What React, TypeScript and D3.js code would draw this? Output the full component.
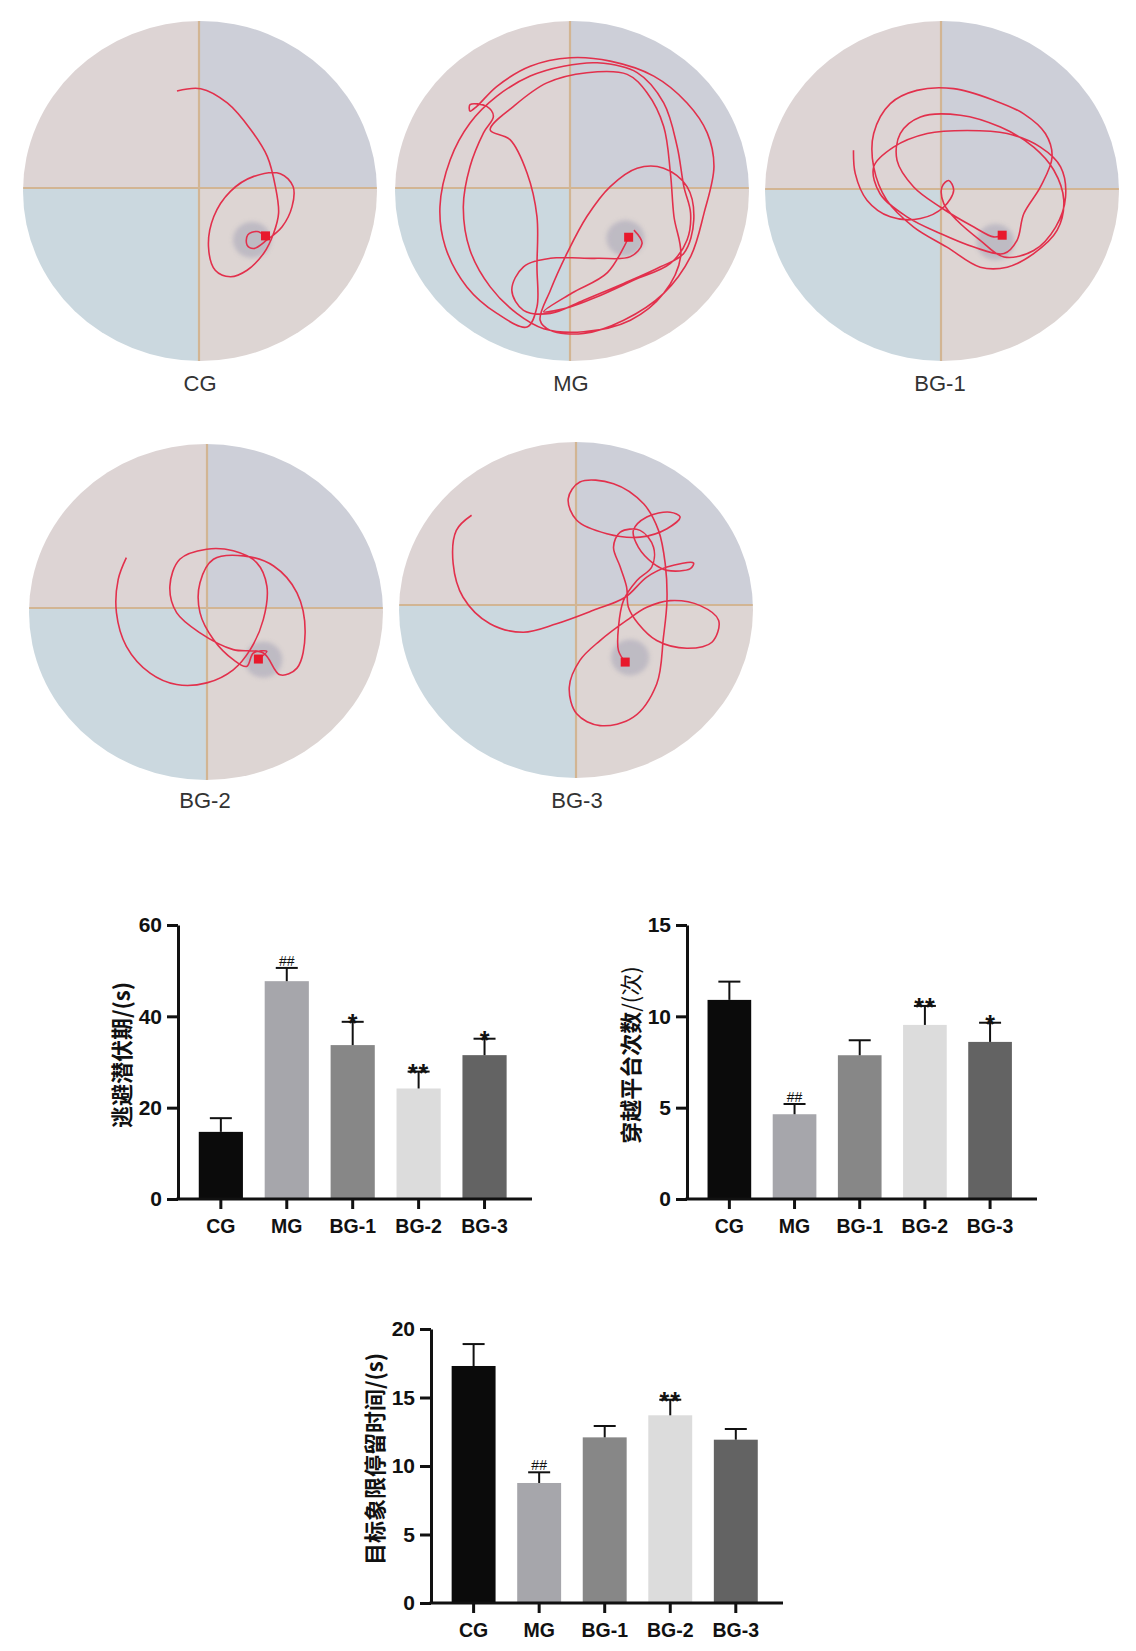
import React, { useEffect, useRef } from 'react';
import * as d3 from 'd3';

// Groups shared by the swim-path panels and the bar charts
const groups = ['CG', 'MG', 'BG-1', 'BG-2', 'BG-3'];

// Escape latency (s)
const latencyMean = [14.7, 47.7, 33.7, 24.2, 31.5];
const latencySd = [3.0, 2.9, 5.1, 3.7, 3.6];
const latencyMarks = ['', '##', '*', '**', '*'];

// Platform crossings (times)
const crossingMean = [10.9, 4.64, 7.87, 9.53, 8.6];
const crossingSd = [1.0, 0.56, 0.82, 1.04, 1.05];
const crossingMarks = ['', '##', '', '**', '*'];

// Time in target quadrant (s)
const quadrantMean = [17.3, 8.76, 12.09, 13.7, 11.92];
const quadrantSd = [1.6, 0.78, 0.83, 1.14, 0.78];
const quadrantMarks = ['', '##', '', '**', ''];

const latencyTicks = [0, 20, 40, 60];
const crossingTicks = [0, 5, 10, 15];
const quadrantTicks = [0, 5, 10, 15, 20];

// Swim tracks, in pool units (0-100 across the pool box, y down)
const trackCG: [number, number][] = [
  [43.5, 20.6], [50.2, 19.9], [57.7, 24.1], [64.3, 31.9], [69.0, 39.8], [71.3, 48.7], [72.2, 56.5],
  [70.8, 62.4], [68.0, 68.3], [63.3, 73.3], [58.6, 75.2], [54.3, 73.3], [52.4, 66.4], [53.9, 57.5],
  [58.6, 50.1], [65.2, 45.7], [72.7, 44.9], [76.3, 48.7], [76.0, 54.6], [73.2, 60.5], [68.9, 64.4],
  [65.2, 66.9], [63.3, 65.9], [63.5, 62.9], [66.1, 61.9], [68.5, 63.2],
];

const trackMG: [number, number][] = [
  [67.5, 61.5], [69.8, 65.4], [66.5, 69.3], [57.1, 69.8], [43.9, 69.8], [36.3, 72.3], [33.0, 79.2],
  [36.3, 85.1], [43.9, 86.0], [53.3, 82.1], [64.6, 77.2], [75.0, 72.3], [81.6, 68.3], [84.4, 58.5],
  [82.5, 48.7], [75.9, 43.3], [68.4, 43.3], [60.8, 48.7], [54.2, 57.5], [48.6, 68.3], [43.9, 79.2],
  [41.0, 88.0], [43.9, 91.0], [53.3, 91.9], [64.6, 88.0], [75.9, 80.1], [83.5, 69.3], [87.3, 56.5],
  [90.1, 42.8], [88.2, 32.9], [82.5, 24.1], [73.1, 16.2], [60.8, 11.8], [49.5, 10.8], [38.2, 13.3],
  [28.8, 19.2], [23.1, 25.1], [21.2, 26.5], [21.2, 24.6], [25.9, 25.1], [27.8, 28.0], [25.0, 32.9],
  [21.2, 42.8], [19.3, 54.6], [21.2, 67.4], [26.9, 78.2], [34.4, 86.0], [42.0, 90.5], [53.3, 91.4],
  [66.5, 88.0], [75.9, 80.1], [80.7, 69.3], [78.8, 57.5], [77.8, 44.7], [75.9, 31.0], [71.2, 21.1],
  [65.6, 15.7], [54.2, 15.2], [42.9, 18.2], [33.5, 25.1], [26.9, 32.0], [32.5, 34.9], [37.3, 44.7],
  [40.1, 57.5], [40.1, 72.3], [40.1, 84.1], [37.3, 90.0], [28.8, 86.0], [20.3, 78.2], [14.2, 66.4],
  [12.7, 54.6], [15.6, 40.8], [21.2, 30.0], [28.8, 22.1], [38.2, 16.2], [47.6, 13.3], [57.1, 12.3],
  [68.4, 15.2], [75.9, 24.1], [79.7, 36.9], [81.6, 48.7], [83.5, 56.5], [82.5, 64.4], [77.8, 71.3],
  [67.5, 76.2], [57.1, 81.1], [49.5, 84.1], [42.0, 85.5], [50.0, 80.0], [60.0, 74.0], [66.0, 63.6],
];

const trackBG1: [number, number][] = [
  [25.0, 38.0], [25.5, 44.9], [28.8, 52.7], [35.4, 57.6], [43.9, 58.1], [50.5, 54.7], [53.3, 49.8],
  [51.9, 46.9], [50.0, 48.8], [50.5, 53.7], [54.2, 58.6], [60.8, 64.5], [67.5, 69.4], [75.9, 67.5],
  [82.1, 60.6], [84.9, 51.8], [83.5, 42.9], [77.8, 37.1], [68.4, 33.1], [57.1, 32.2], [45.8, 33.1],
  [36.3, 37.1], [30.7, 42.9], [32.5, 50.8], [40.1, 57.6], [49.5, 62.5], [59.0, 66.5], [67.5, 68.4],
  [71.2, 64.5], [73.1, 56.7], [77.8, 48.8], [81.1, 40.0], [79.2, 33.1], [73.1, 27.3], [64.6, 23.3],
  [53.3, 19.9], [42.9, 20.4], [35.4, 24.3], [30.7, 33.1], [30.7, 42.9], [34.4, 52.7], [42.0, 60.6],
  [51.4, 66.5], [60.8, 72.4], [68.4, 72.4], [75.9, 68.4], [82.5, 61.6], [84.4, 52.7], [81.6, 43.9],
  [75.9, 37.1], [66.5, 31.2], [55.2, 27.7], [43.9, 28.2], [38.2, 33.1], [37.3, 41.0], [42.0, 48.8],
  [49.5, 54.7], [59.0, 60.6], [64.6, 63.5], [67.0, 63.0],
];

const trackBG2: [number, number][] = [
  [27.5, 33.8], [25.2, 40.3], [24.7, 50.2], [27.5, 60.2], [34.2, 68.2], [41.7, 71.6], [50.2, 71.1],
  [57.7, 67.2], [62.5, 61.2], [66.2, 52.2], [67.2, 42.3], [64.3, 35.3], [57.7, 31.8], [50.2, 31.3],
  [42.6, 34.3], [39.8, 42.3], [41.7, 50.2], [48.3, 56.2], [57.7, 61.2], [66.2, 62.2], [70.9, 68.7],
  [75.7, 66.7], [78.0, 56.2], [75.7, 44.3], [69.1, 36.3], [60.6, 33.3], [52.1, 34.3], [48.3, 41.3],
  [48.3, 50.2], [52.1, 58.2], [57.7, 64.2], [61.5, 66.2], [63.4, 62.2], [67.2, 61.7], [64.8, 64.0],
];

const trackBG3: [number, number][] = [
  [20.5, 21.8], [16.2, 26.3], [15.3, 36.2], [18.1, 46.2], [25.7, 54.1], [35.1, 56.6], [44.5, 54.1],
  [54.9, 50.1], [63.9, 46.2], [70.0, 40.2], [75.7, 37.2], [83.2, 36.0], [82.3, 37.7], [75.7, 38.2],
  [71.9, 36.2], [67.6, 31.3], [66.2, 26.3], [70.0, 22.3], [76.6, 20.9], [79.4, 22.3], [75.7, 25.8],
  [68.1, 28.3], [58.7, 27.3], [50.2, 23.3], [47.8, 16.9], [51.1, 11.9], [60.6, 12.4], [69.1, 18.4],
  [73.3, 26.3], [75.2, 36.2], [75.7, 47.2], [74.7, 58.1], [72.8, 72.0], [66.2, 81.9], [56.8, 84.4],
  [50.2, 80.9], [48.1, 73.0], [51.1, 65.0], [56.8, 59.1], [64.3, 53.1], [70.0, 49.2], [76.6, 47.2],
  [85.1, 48.7], [90.3, 53.1], [88.4, 59.6], [81.3, 61.4], [72.8, 59.1], [67.6, 54.1], [64.8, 49.2],
  [64.3, 43.2], [62.5, 37.2], [60.6, 31.3], [62.5, 26.8], [68.1, 26.3], [71.9, 31.3], [71.4, 37.2],
  [67.2, 41.2], [63.4, 47.2], [62.0, 55.1], [62.0, 62.1], [63.9, 65.5],
];

const tracks = [trackCG, trackMG, trackBG1, trackBG2, trackBG3];

// Hidden platform centres, in pool units
const platforms: [number, number][] = [[64.7, 64.4], [65.1, 63.9], [65.1, 65.0], [66.2, 64.2], [65.3, 64.1]];

const barColors = ['#0b0b0b', '#a6a6ab', '#878787', '#dcdcdc', '#636363'];

const App = () => {
  const svgRef = useRef<SVGSVGElement>(null);

  useEffect(() => {
    const svg = d3.select(svgRef.current);
    svg.selectAll('*').remove();
    const defs = svg.append('defs');
    defs.append('filter').attr('id', 'soft')
      .attr('x', '-50%').attr('y', '-50%').attr('width', '200%').attr('height', '200%')
      .append('feGaussianBlur').attr('stdDeviation', 2);

    // Pool layout on the page
    const pools = [
      { cx: 200, cy: 191, rx: 177, ry: 170, crossX: 199, crossY: 188, labelX: 200, labelY: 391 },
      { cx: 572, cy: 191, rx: 177, ry: 170, crossX: 570, crossY: 188, labelX: 571, labelY: 391 },
      { cx: 942, cy: 191, rx: 177, ry: 170, crossX: 941, crossY: 189, labelX: 940, labelY: 391 },
      { cx: 206, cy: 612, rx: 177, ry: 168, crossX: 207, crossY: 608, labelX: 205, labelY: 808 },
      { cx: 576, cy: 610, rx: 177, ry: 168, crossX: 576, crossY: 605, labelX: 577, labelY: 808 },
    ];
    const quadColors = ['#ddd4d4', '#cdcfd8', '#cbd8df', '#ddd5d3'];

    pools.forEach((p, i) => {
      const x = d3.scaleLinear().domain([0, 100]).range([p.cx - p.rx, p.cx + p.rx]);
      const y = d3.scaleLinear().domain([0, 100]).range([p.cy - p.ry, p.cy + p.ry]);
      const clipId = `pool-clip-${i}`;
      defs.append('clipPath').attr('id', clipId)
        .append('ellipse').attr('cx', p.cx).attr('cy', p.cy).attr('rx', p.rx).attr('ry', p.ry);

      const g = svg.append('g');
      const inner = g.append('g').attr('clip-path', `url(#${clipId})`);
      const x0 = p.cx - p.rx, x1 = p.cx + p.rx, y0 = p.cy - p.ry, y1 = p.cy + p.ry;
      const quads = [
        [x0, y0, p.crossX, p.crossY], [p.crossX, y0, x1, p.crossY],
        [x0, p.crossY, p.crossX, y1], [p.crossX, p.crossY, x1, y1],
      ];
      inner.selectAll('rect').data(quads).enter().append('rect')
        .attr('x', d => d[0]).attr('y', d => d[1])
        .attr('width', d => d[2] - d[0]).attr('height', d => d[3] - d[1])
        .attr('fill', (d, k) => quadColors[k]);
      inner.append('line').attr('x1', p.crossX).attr('x2', p.crossX).attr('y1', y0).attr('y2', y1)
        .attr('stroke', '#d2b593').attr('stroke-width', 2.2);
      inner.append('line').attr('x1', x0).attr('x2', x1).attr('y1', p.crossY).attr('y2', p.crossY)
        .attr('stroke', '#d2b593').attr('stroke-width', 2.2);

      // Platform zone
      inner.append('ellipse')
        .attr('cx', x(platforms[i][0])).attr('cy', y(platforms[i][1]))
        .attr('rx', 19).attr('ry', 18)
        .attr('fill', '#b7b4c0').attr('opacity', 0.8).attr('filter', 'url(#soft)');

      // Swim path
      const line = d3.line<[number, number]>()
        .x(d => x(d[0])).y(d => y(d[1]))
        .curve(d3.curveCatmullRom.alpha(0.5));
      inner.append('path').attr('d', line(tracks[i]))
        .attr('fill', 'none').attr('stroke', '#e2304c').attr('stroke-width', 1.6);

      // End point marker
      const end = tracks[i][tracks[i].length - 1];
      inner.append('rect')
        .attr('x', x(end[0]) - 4.5).attr('y', y(end[1]) - 4.5)
        .attr('width', 9).attr('height', 9).attr('fill', '#e8192c');

      g.append('text').attr('x', p.labelX).attr('y', p.labelY)
        .attr('text-anchor', 'middle')
        .attr('font-family', "'Liberation Sans', Arial, sans-serif")
        .attr('font-size', 22).attr('fill', '#333')
        .text(groups[i]);
    });

    // Bar chart with upper error whiskers
    const drawBars = (cfg) => {
      const g = svg.append('g');
      const y = d3.scaleLinear().domain([0, cfg.max]).range([cfg.bottom, cfg.top]);
      const x = d3.scaleBand().domain(groups).range([cfg.left, cfg.right])
        .paddingInner(0.33).paddingOuter(0.35).align(0.45);
      const font = "'Liberation Sans', Arial, sans-serif";

      const bars = g.selectAll('.bar').data(groups).enter().append('g');
      bars.append('rect')
        .attr('x', d => x(d)).attr('width', x.bandwidth())
        .attr('y', (d, i) => y(cfg.means[i]))
        .attr('height', (d, i) => cfg.bottom - y(cfg.means[i]))
        .attr('fill', (d, i) => barColors[i]);
      bars.append('line')
        .attr('x1', d => x(d) + x.bandwidth() / 2).attr('x2', d => x(d) + x.bandwidth() / 2)
        .attr('y1', (d, i) => y(cfg.means[i])).attr('y2', (d, i) => y(cfg.means[i] + cfg.sds[i]))
        .attr('stroke', '#111').attr('stroke-width', 2);
      bars.append('line')
        .attr('x1', d => x(d) + x.bandwidth() / 2 - 11).attr('x2', d => x(d) + x.bandwidth() / 2 + 11)
        .attr('y1', (d, i) => y(cfg.means[i] + cfg.sds[i])).attr('y2', (d, i) => y(cfg.means[i] + cfg.sds[i]))
        .attr('stroke', '#111').attr('stroke-width', 2);
      bars.append('text')
        .attr('x', d => x(d) + x.bandwidth() / 2)
        .attr('y', (d, i) => y(cfg.means[i] + cfg.sds[i]) + (cfg.marks[i] === '##' ? -2 : 10))
        .attr('text-anchor', 'middle')
        .attr('font-family', font)
        .attr('font-size', (d, i) => (cfg.marks[i] === '##' ? 14 : 25))
        .attr('font-weight', (d, i) => (cfg.marks[i] === '##' ? 400 : 700))
        .attr('letter-spacing', (d, i) => (cfg.marks[i] === '**' ? 1 : 0))
        .attr('fill', '#111')
        .text((d, i) => cfg.marks[i]);

      // Y axis
      const yAxis = g.append('g').attr('transform', `translate(${cfg.left},0)`)
        .call(d3.axisLeft(y).tickValues(cfg.ticks).tickSize(11).tickPadding(5).tickSizeOuter(0));
      yAxis.select('.domain').attr('stroke', '#111').attr('stroke-width', 3);
      yAxis.selectAll('.tick line').attr('stroke', '#111').attr('stroke-width', 3);
      yAxis.selectAll('.tick text').attr('font-family', font).attr('font-size', 21)
        .attr('font-weight', 700).attr('fill', '#111');

      // X axis
      const xAxis = g.append('g').attr('transform', `translate(0,${cfg.bottom})`)
        .call(d3.axisBottom(x).tickSize(10).tickPadding(10).tickSizeOuter(0));
      xAxis.select('.domain').remove();
      xAxis.append('line').attr('x1', cfg.left - 1.5).attr('x2', cfg.right).attr('y1', 0).attr('y2', 0)
        .attr('stroke', '#111').attr('stroke-width', 3);
      xAxis.selectAll('.tick line').attr('stroke', '#111').attr('stroke-width', 3);
      xAxis.selectAll('.tick text').attr('font-family', font).attr('font-size', 19.5)
        .attr('font-weight', 700).attr('fill', '#111');

      // Y title
      const title = g.append('text')
        .attr('transform', `translate(${cfg.left - 58},${(cfg.top + cfg.bottom) / 2 - 7}) rotate(-90)`)
        .attr('text-anchor', 'middle').attr('dominant-baseline', 'central')
        .attr('font-family', "'Noto Sans CJK SC', sans-serif")
        .attr('font-size', 22).attr('fill', '#111');
      title.append('tspan').attr('font-weight', 700).text(cfg.title[0]);
      title.append('tspan').attr('font-weight', cfg.title[2] ? 400 : 700).text(cfg.title[1]);
    };

    drawBars({
      left: 178, right: 532, top: 925, bottom: 1199, max: 60, ticks: latencyTicks,
      means: latencyMean, sds: latencySd, marks: latencyMarks, title: ['逃避潜伏期', '/(s)', false],
    });
    drawBars({
      left: 687, right: 1037, top: 925, bottom: 1199, max: 15, ticks: crossingTicks,
      means: crossingMean, sds: crossingSd, marks: crossingMarks, title: ['穿越平台次数', '/(次)', true],
    });
    drawBars({
      left: 431, right: 783, top: 1329, bottom: 1603, max: 20, ticks: quadrantTicks,
      means: quadrantMean, sds: quadrantSd, marks: quadrantMarks, title: ['目标象限停留时间', '/(s)', false],
    });
  }, []);

  return (
    <svg
      ref={svgRef}
      width={1136}
      height={1651}
      style={{ position: 'absolute', left: 0, top: 0, background: '#ffffff' }}
    />
  );
};

export default App;
